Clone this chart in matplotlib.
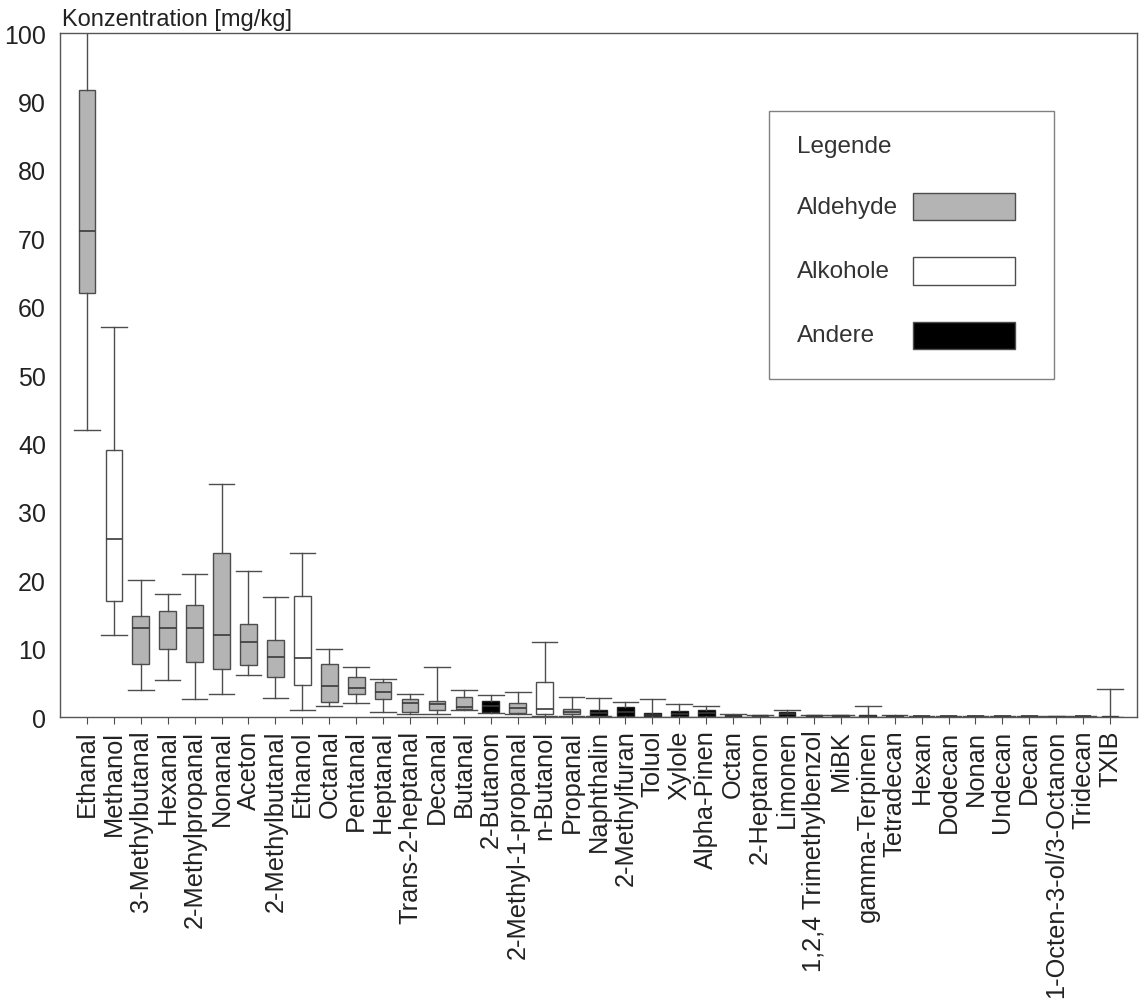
import matplotlib
matplotlib.use('Agg')
import matplotlib.pyplot as plt
from matplotlib.patches import Rectangle

plt.rcParams['font.family'] = ['Liberation Sans', 'DejaVu Sans']

# substances, left to right
names = ['Ethanal', 'Methanol', '3-Methylbutanal', 'Hexanal', '2-Methylpropanal',
         'Nonanal', 'Aceton', '2-Methylbutanal', 'Ethanol', 'Octanal', 'Pentanal',
         'Heptanal', 'Trans-2-heptanal', 'Decanal', 'Butanal', '2-Butanon',
         '2-Methyl-1-propanal', 'n-Butanol', 'Propanal', 'Naphthalin',
         '2-Methylfuran', 'Toluol', 'Xylole', 'Alpha-Pinen', 'Octan', '2-Heptanon',
         'Limonen', '1,2,4 Trimethylbenzol', 'MiBK', 'gamma-Terpinen', 'Tetradecan',
         'Hexan', 'Dodecan', 'Nonan', 'Undecan', 'Decan', '1-Octen-3-ol/3-Octanon',
         'Tridecan', 'TXIB']
# A = Aldehyde, W = Alkohole, O = Andere
group = ['A', 'W', 'A', 'A', 'A', 'A', 'A', 'A', 'W', 'A', 'A', 'A', 'A', 'A', 'A', 'O',
         'A', 'W', 'A', 'O', 'O', 'O', 'O', 'O', 'O', 'A', 'O', 'O', 'O', 'O', 'O',
         'O', 'O', 'O', 'O', 'O', 'W', 'O', 'A']

whislo = [42.0, 12.0, 3.9, 5.4, 2.7, 3.4, 6.2, 2.8, 1.0, 1.6, 2.0, 0.7, 0.5, 0.4, 1.0,
          0.6, 0.4, 0.2, 0.2, 0.1, 0.05, 0.05, 0.05, 0.05, 0.0, 0.0, 0.05, 0.0, 0.0,
          0.0, 0.0, 0.0, 0.0, 0.0, 0.0, 0.0, 0.0, 0.0, 0.0]
q1 = [62.0, 17.0, 7.8, 10.0, 8.0, 7.0, 7.6, 5.9, 4.7, 2.2, 3.4, 2.6, 0.7, 1.0, 1.1,
      0.8, 0.6, 0.5, 0.4, 0.15, 0.2, 0.1, 0.1, 0.1, 0.05, 0.05, 0.15, 0.05, 0.05,
      0.05, 0.03, 0.03, 0.03, 0.03, 0.03, 0.03, 0.02, 0.03, 0.02]
med = [71.0, 26.0, 13.0, 13.0, 13.0, 12.0, 11.0, 8.8, 8.6, 4.6, 4.2, 3.6, 2.0, 1.9, 1.4,
       1.6, 1.3, 1.1, 0.8, 0.6, 0.7, 0.35, 0.5, 0.6, 0.2, 0.15, 0.45, 0.15, 0.15,
       0.2, 0.1, 0.08, 0.08, 0.08, 0.08, 0.08, 0.06, 0.08, 0.06]
q3 = [91.7, 39.0, 14.7, 15.5, 16.4, 24.0, 13.6, 11.2, 17.7, 7.7, 5.8, 5.1, 2.7, 2.4, 2.9,
      2.4, 2.0, 5.1, 1.2, 1.0, 1.4, 0.6, 0.9, 1.0, 0.35, 0.25, 0.7, 0.25, 0.25,
      0.35, 0.2, 0.13, 0.13, 0.13, 0.13, 0.13, 0.1, 0.13, 0.12]
whishi = [110.0, 57.0, 20.0, 18.0, 20.9, 34.0, 21.4, 17.5, 24.0, 10.0, 7.3, 5.6, 3.4, 7.3,
          3.9, 3.2, 3.6, 10.9, 2.9, 2.8, 2.2, 2.7, 1.9, 1.6, 0.5, 0.3, 1.0, 0.3, 0.3,
          1.6, 0.25, 0.15, 0.15, 0.15, 0.15, 0.15, 0.12, 0.15, 4.1]

legend_labels = ['Aldehyde', 'Alkohole', 'Andere']
fills = {'A': '#b4b4b4', 'W': '#ffffff', 'O': '#000000'}
edge = '#4d4d4d'
txt = '#222222'

stats = []
for i in range(len(names)):
    stats.append({'whislo': whislo[i], 'q1': q1[i], 'med': med[i],
                  'q3': q3[i], 'whishi': whishi[i], 'fliers': []})

fig = plt.figure(figsize=(11.39, 10.04), dpi=100)
ax = fig.add_axes([60 / 1139, 1 - 718 / 1004, 1077 / 1139, 684 / 1004])

pos = list(range(1, len(names) + 1))
bp = ax.bxp(stats, positions=pos, widths=0.62, capwidths=0.95, patch_artist=True,
            showfliers=False,
            boxprops=dict(edgecolor=edge, linewidth=1.0),
            whiskerprops=dict(color=edge, linewidth=1.0),
            capprops=dict(color=edge, linewidth=1.0),
            medianprops=dict(color='#3a3a3a', linewidth=1.2))
for box, g in zip(bp['boxes'], group):
    box.set_facecolor(fills[g])
    if g == 'O':
        box.set_edgecolor('#222222')

ax.set_xlim(0, len(names) + 1)
ax.set_ylim(0, 100)
ax.set_yticks(range(0, 101, 10))
ax.set_xticks(pos)
ax.set_xticklabels(names, rotation=90, fontsize=18.3, color=txt)
ax.tick_params(axis='y', length=0, pad=10, labelsize=18, labelcolor=txt)
ax.tick_params(axis='x', length=5, pad=4, direction='out', color=edge)
for sp in ax.spines.values():
    sp.set_color('#555555')
    sp.set_linewidth(1.0)

fig.text(62 / 1139, 1 - 20 / 1004, 'Konzentration [mg/kg]', fontsize=17,
         va='center', color=txt)

# legend box drawn by hand
ax.add_patch(Rectangle((0.658, 0.494), 0.265, 0.392, transform=ax.transAxes,
                       facecolor='white', edgecolor='#808080', linewidth=1.0, zorder=5))
ax.text(0.684, 0.835, 'Legende', transform=ax.transAxes, fontsize=17.5,
        va='center', ha='left', color='#333333', zorder=6)
for lab, g, yc in zip(legend_labels, ['A', 'W', 'O'], [0.746, 0.652, 0.558]):
    ax.text(0.684, yc, lab, transform=ax.transAxes, fontsize=17.5,
            va='center', ha='left', color='#333333', zorder=6)
    ax.add_patch(Rectangle((0.792, yc - 0.020), 0.095, 0.040, transform=ax.transAxes,
                           facecolor=fills[g], edgecolor=edge, linewidth=1.0, zorder=6))

fig.savefig('out.png', dpi=100)
